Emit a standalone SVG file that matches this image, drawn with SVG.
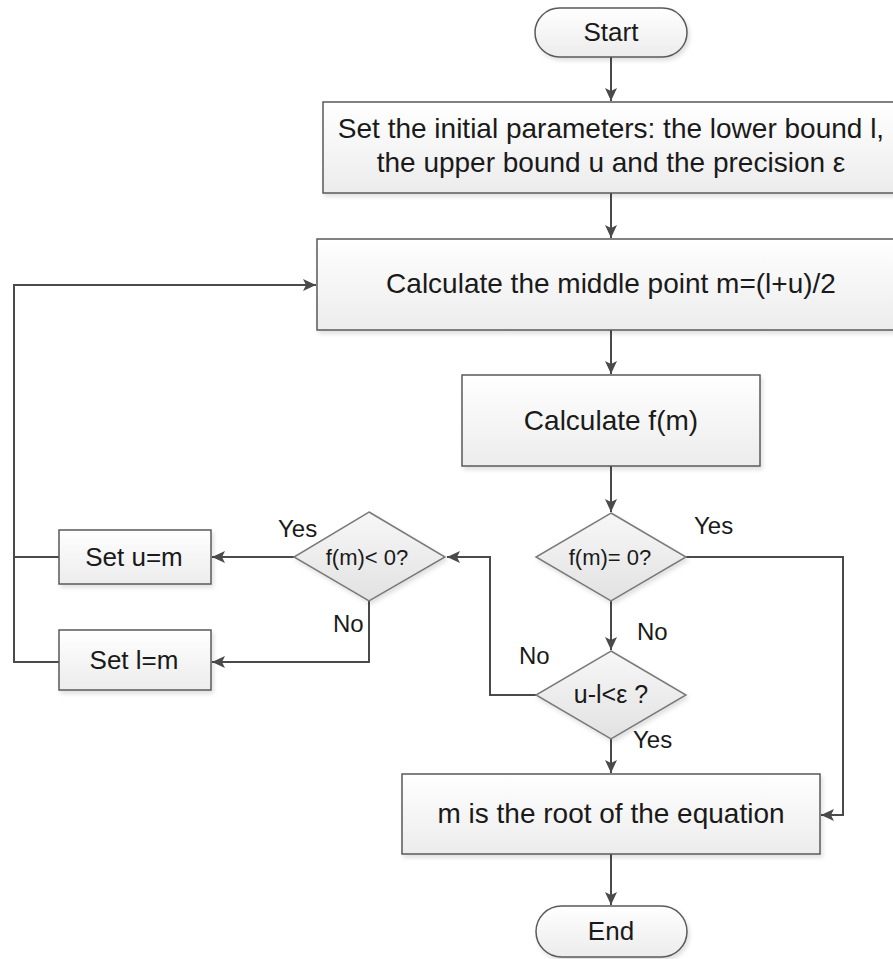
<svg xmlns="http://www.w3.org/2000/svg" width="893" height="959" viewBox="0 0 893 959">
<style>
text{font-family:"Liberation Sans",Arial,sans-serif;fill:#1a1a1a;text-anchor:middle}
.t{font-size:28px}
.s{font-size:22px}
.lbl{font-size:24px;text-anchor:start}
.box{fill:url(#g);stroke:#5a5a5a;stroke-width:1.5;filter:url(#sh)}
.dia{fill:url(#gd);stroke:#7a7a7a;stroke-width:1.5;filter:url(#sh)}
.ln{fill:none;stroke:#4a4a4a;stroke-width:2}
.ar{marker-end:url(#a)}
</style>
<defs>
<linearGradient id="g" x1="0" y1="0" x2="0" y2="1"><stop offset="0" stop-color="#ffffff"/><stop offset="1" stop-color="#ececec"/></linearGradient>
<linearGradient id="gd" x1="0" y1="0" x2="0" y2="1"><stop offset="0" stop-color="#f7f7f7"/><stop offset="1" stop-color="#e2e2e2"/></linearGradient>
<filter id="sh" x="-10%" y="-10%" width="130%" height="140%"><feDropShadow dx="2" dy="3" stdDeviation="2" flood-color="#000" flood-opacity="0.12"/></filter>
<marker id="a" markerUnits="userSpaceOnUse" markerWidth="14" markerHeight="12" refX="13" refY="6" orient="auto"><path d="M0,0 L13,6 L0,12 L3,6 z" fill="#4a4a4a"/></marker>
</defs>
<g id="connectors">
<path class="ln ar" d="M611,57 V101"/>
<path class="ln ar" d="M611,193 V238"/>
<path class="ln ar" d="M611,330 V374"/>
<path class="ln ar" d="M611,466 V512"/>
<path class="ln ar" d="M611,601 V650"/>
<path class="ln ar" d="M686,557 H843 V815 H821"/>
<path class="ln ar" d="M536,695 H490 V557 H447"/>
<path class="ln ar" d="M611,739 V773"/>
<path class="ln ar" d="M294,557 H212"/>
<path class="ln ar" d="M369,601 V662 H212"/>
<path class="ln" d="M59,557 H14"/>
<path class="ln ar" d="M59,662 H14 V285 H316"/>
<path class="ln ar" d="M611,854 V905"/>
</g>
<g id="start"><rect class="box" x="535" y="8" width="152" height="49" rx="24.5"/><text class="t" x="611" y="41" style="font-size:26px">Start</text></g>
<g id="init"><rect class="box" x="323" y="102" width="580" height="91"/><text class="t" x="611" y="138">Set the initial parameters: the lower bound l,</text><text class="t" x="611" y="172">the upper bound u and the precision ε</text></g>
<g id="middle"><rect class="box" x="317" y="239" width="590" height="91"/><text class="t" x="611" y="293">Calculate the middle point m=(l+u)/2</text></g>
<g id="calcf"><rect class="box" x="462" y="375" width="298" height="91"/><text class="t" x="611" y="430">Calculate f(m)</text></g>
<g id="dec1"><polygon class="dia" points="611,513 686,557 611,601 536,557"/><text class="s" x="610" y="565">f(m)= 0?</text></g>
<g id="dec2"><polygon class="dia" points="611,651 686,695 611,739 536,695"/><text class="t" x="611" y="703" style="font-size:25px">u-l&lt;ε ?</text></g>
<g id="dec3"><polygon class="dia" points="369,512 445,557 369,601 294,557"/><text class="s" x="367" y="565">f(m)&lt; 0?</text></g>
<g id="setu"><rect class="box" x="59" y="530" width="152" height="54"/><text class="t" x="134" y="566" style="font-size:26px">Set u=m</text></g>
<g id="setl"><rect class="box" x="59" y="630" width="152" height="60"/><text class="t" x="134" y="669" style="font-size:26px">Set l=m</text></g>
<g id="root"><rect class="box" x="402" y="774" width="418" height="80"/><text class="t" x="611" y="823">m is the root of the equation</text></g>
<g id="end"><rect class="box" x="536" y="906" width="151" height="51" rx="25.5"/><text class="t" x="611" y="940" style="font-size:26px">End</text></g>
<g id="labels">
<text class="lbl" x="694" y="534">Yes</text>
<text class="lbl" x="637" y="640">No</text>
<text class="lbl" x="519" y="664">No</text>
<text class="lbl" x="633" y="748">Yes</text>
<text class="lbl" x="278" y="537">Yes</text>
<text class="lbl" x="333" y="632">No</text>
</g>
</svg>
